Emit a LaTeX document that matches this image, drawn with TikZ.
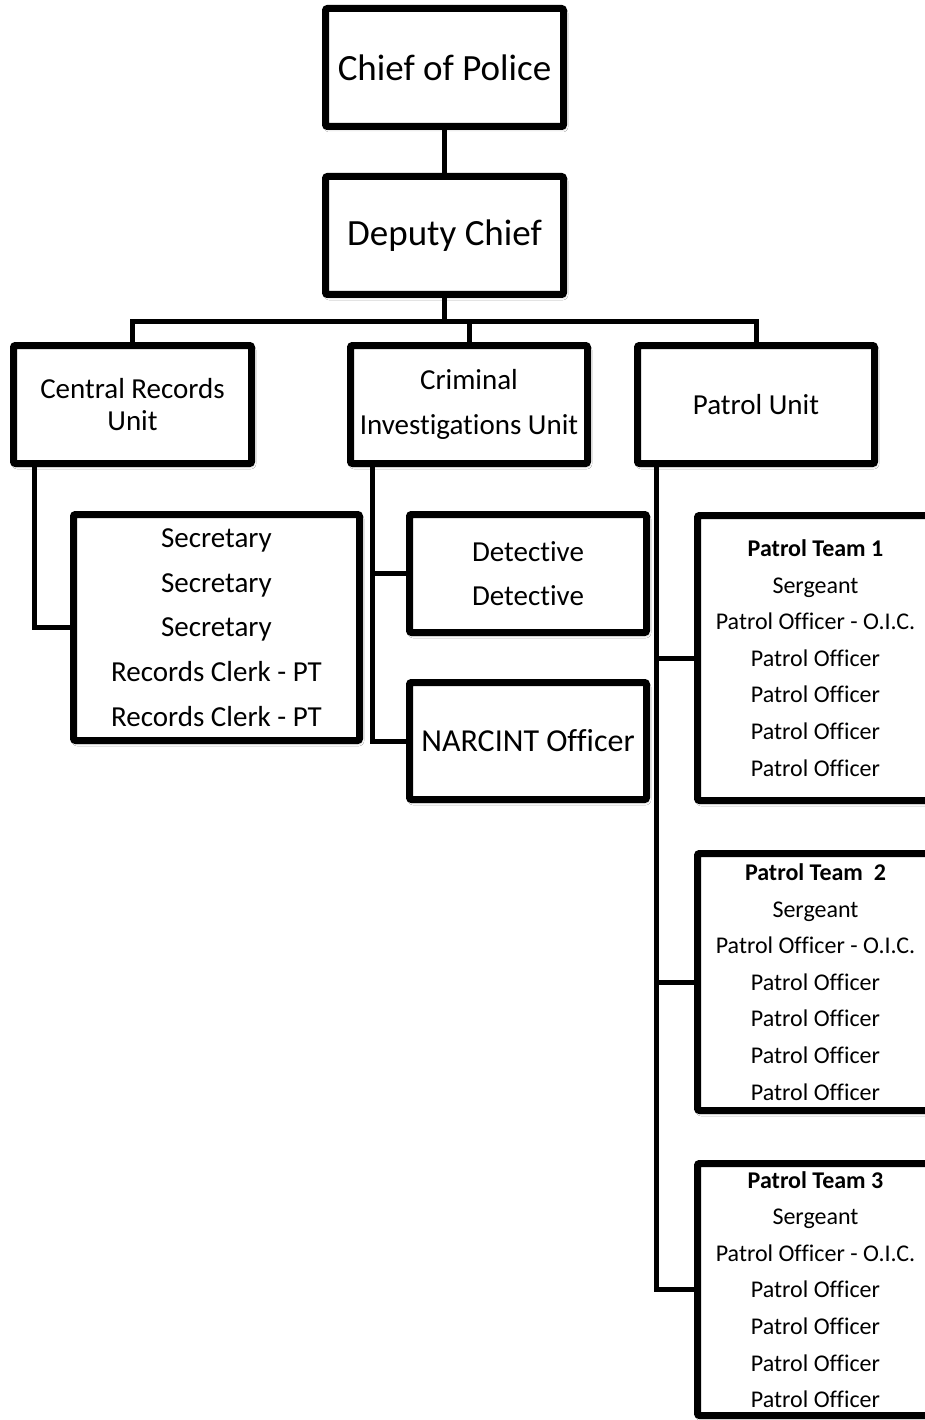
\documentclass[tikz,border=0pt]{standalone}
\usepackage{fontspec}
\setmainfont[Ligatures={NoCommon}]{Carlito}
\usetikzlibrary{shadows.blur}
\begin{document}
\begin{tikzpicture}[x=1pt,y=-1pt,
  box/.style={draw=black, line width=7pt, fill=white, rounded corners=2pt,
    inner sep=0pt, align=center,
    blur shadow={shadow xshift=1.5pt, shadow yshift=-2.5pt, shadow blur radius=3pt, shadow opacity=30}},
  link/.style={draw=black, line width=5pt},
  big/.style={font=\fontsize{37}{44}\selectfont},
  unit/.style={font=\fontsize{29}{32}\selectfont},
  team/.style={font=\fontsize{24}{36.6}\selectfont}
]
\useasboundingbox (0,0) rectangle (925,1420);
\clip (0,0) rectangle (925,1420);
\fill[white] (0,0) rectangle (925,1420);

% top level
\node[box, big, minimum width=238pt, minimum height=118pt] (chief) at (444.5,67.5) {Chief of Police};
\node[box, big, minimum width=238pt, minimum height=118pt] (dep) at (444.5,235.5) {Deputy Chief};

% units
\node[box, unit, minimum width=238pt, minimum height=118pt] (cru) at (132.5,404.5) {Central Records\\Unit};
\node[box, font=\fontsize{29}{45}\selectfont, minimum width=237pt, minimum height=118pt] (ciu) at (469,404.5) {Criminal\\Investigations Unit};
\node[box, unit, minimum width=237pt, minimum height=118pt] (pu) at (756,404.5) {Patrol Unit};

% second level
\node[box, font=\fontsize{29}{44.75}\selectfont, minimum width=286pt, minimum height=226pt] (sec) at (216.5,627.5)
  {Secretary\\Secretary\\Secretary\\Records Clerk - PT\\Records Clerk - PT};
\node[box, font=\fontsize{29}{44}\selectfont, minimum width=237pt, minimum height=118pt] (det) at (528,573.5)
  {Detective\\Detective};
\node[box, font=\fontsize{32}{38}\selectfont, minimum width=237pt, minimum height=117pt] (narc) at (528,741)
  {NARCINT Officer};

\node[box, team, minimum width=236pt, minimum height=285pt] (t1) at (815.5,658)
  {\textbf{Patrol Team 1}\\Sergeant\\Patrol Officer - O.I.C.\\Patrol Officer\\Patrol Officer\\Patrol Officer\\Patrol Officer};
\node[box, team, minimum width=236pt, minimum height=257pt] (t2) at (815.5,982)
  {\textbf{Patrol Team~ 2}\\Sergeant\\Patrol Officer - O.I.C.\\Patrol Officer\\Patrol Officer\\Patrol Officer\\Patrol Officer};
\node[box, team, minimum width=236pt, minimum height=252pt] (t3) at (815.5,1289.5)
  {\textbf{Patrol Team 3}\\Sergeant\\Patrol Officer - O.I.C.\\Patrol Officer\\Patrol Officer\\Patrol Officer\\Patrol Officer};

% connectors
\coordinate (bus) at (0,321);
\draw[link] (chief.south) -- (dep.north);
\draw[link] (dep.south) -- (dep.south |- bus);
\draw[link] (cru.north) -- (cru.north |- bus) -- (pu.north |- bus) -- (pu.north);
\draw[link] (ciu.north |- bus) -- (ciu.north);

\coordinate (cruL) at ([xshift=24.5pt]cru.south west);
\draw[link] (cruL) |- (sec.west);

\coordinate (ciuL) at ([xshift=25.5pt]ciu.south west);
\draw[link] (ciuL) |- (narc.west);
\draw[link] (ciuL |- det.west) -- (det.west);

\coordinate (puL) at ([xshift=22.5pt]pu.south west);
\draw[link] (puL) |- (t3.west);
\draw[link] (puL |- t1.west) -- (t1.west);
\draw[link] (puL |- t2.west) -- (t2.west);
\end{tikzpicture}
\end{document}
